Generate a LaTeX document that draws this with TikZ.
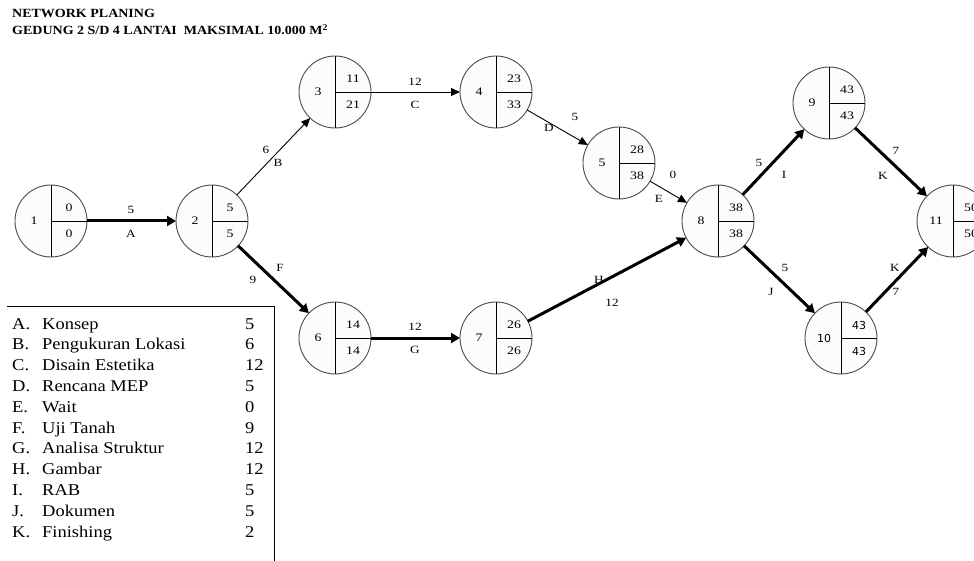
\documentclass[tikz,border=0pt]{standalone}
\usepackage{fontspec}
\setmainfont{Liberation Serif}
\newfontfamily\sansnum{DejaVu Sans}
\newfontfamily\wideserif[FakeStretch=1.12]{Liberation Serif}
\newfontfamily\numserif[FakeStretch=1.2]{Liberation Serif}
\usetikzlibrary{arrows.meta}

\newcommand\evnode[7][]{% [font], name, x, y, label, top, bottom
  \node[ev] (#2) at (#3,#4) {};
  \draw[divline] (#2.north) -- (#2.south);
  \draw[divline] (#2.center) -- (#2.east);
  \node[num,#1] (#2-n) at (#3-17,#4) {#5};
  \node[num,#1] (#2-t) at (#3+18,#4-13) {#6};
  \node[num,#1] (#2-b) at (#3+18,#4+13) {#7};
}

\begin{document}
\begin{tikzpicture}[x=1pt,y=-1pt,
  ev/.style={circle,draw=black!70,line width=0.9pt,fill=black!1,minimum size=72pt,inner sep=0pt,outer sep=0pt},
  divline/.style={line width=0.9pt,black},
  num/.style={font=\numserif\fontsize{11.5}{14}\selectfont,inner sep=0pt},
  lab/.style={font=\numserif\fontsize{11}{14}\selectfont,inner sep=0pt},
  minor/.style={line width=0.9pt,-{Triangle[length=9pt,width=8pt]}},
  crit/.style={line width=3pt,-{Triangle[length=9pt,width=10pt]}},
  leg/.style={font=\wideserif\fontsize{16.5}{18}\selectfont,inner sep=0pt,anchor=base west},
  ttl/.style={font=\wideserif\fontsize{12.5}{14}\selectfont\bfseries,inner sep=0pt,anchor=base west},
]
\useasboundingbox (0,0) rectangle (974,561);
\clip (0,0) rectangle (974,561);

% title
\node[ttl] (t1) at (12,18) {NETWORK PLANING};
\node[ttl] (t2) at (12,35) {GEDUNG 2 S/D 4 LANTAI\ \ MAKSIMAL 10.000 M\textsuperscript{2}};

% events
\evnode{e1}{51}{221}{1}{0}{0}
\evnode{e2}{212}{221}{2}{5}{5}
\evnode{e3}{335}{92}{3}{11}{21}
\evnode{e4}{496}{92}{4}{23}{33}
\evnode{e5}{619}{163}{5}{28}{38}
\evnode{e6}{335}{338}{6}{14}{14}
\evnode{e7}{496}{338}{7}{26}{26}
\evnode{e8}{718}{221}{8}{38}{38}
\evnode{e9}{829}{103}{9}{43}{43}
\evnode[font=\sansnum\fontsize{11}{13}\selectfont]{e10}{841}{338}{10}{43}{43}
\evnode{e11}{953}{221}{11}{50}{50}

% activities
\draw[crit]  (e1) -- (e2);
\draw[minor] (e2) -- (e3);
\draw[minor] (e3) -- (e4);
\draw[minor] (e4) -- (e5);
\draw[minor] (e5) -- (e8);
\draw[crit]  (e2) -- (e6);
\draw[crit]  (e6) -- (e7);
\draw[crit]  (e7) -- (e8);
\draw[crit]  (e8) -- (e9);
\draw[crit]  (e8) -- (e10);
\draw[crit]  (e9) -- (e11);
\draw[crit]  (e10) -- (e11);

% activity labels
\node[lab] (lA1) at (131,210) {5};
\node[lab] (lA2) at (131,234) {A};
\node[lab] (lB1) at (266,150) {6};
\node[lab] (lB2) at (278,163) {B};
\node[lab] (lC1) at (415,82) {12};
\node[lab] (lC2) at (415,105) {C};
\node[lab] (lD1) at (575,117) {5};
\node[lab] (lD2) at (549,128) {D};
\node[lab] (lE1) at (673,175) {0};
\node[lab] (lE2) at (659,199) {E};
\node[lab] (lF1) at (280,268) {F};
\node[lab] (lF2) at (253,280) {9};
\node[lab] (lG1) at (415,327) {12};
\node[lab] (lG2) at (415,350) {G};
\node[lab] (lH1) at (599,280) {H};
\node[lab] (lH2) at (612,303) {12};
\node[lab] (lI1) at (759,163) {5};
\node[lab] (lI2) at (784,175) {I};
\node[lab] (lJ1) at (785,268) {5};
\node[lab] (lJ2) at (771,292) {J};
\node[lab] (lK1) at (896,151) {7};
\node[lab] (lK2) at (883,176) {K};
\node[lab] (lK3) at (895,268) {K};
\node[lab] (lK4) at (896,292) {7};

% legend
\coordinate (bx1) at (7,306);
\coordinate (bx2) at (274,306);
\coordinate (bx3) at (274,561);
\draw[line width=0.9pt] (bx1) -- (bx2) -- (bx3);
\foreach \i/\l/\n/\v in {0/A/Konsep/5,1/B/Pengukuran Lokasi/6,2/C/Disain Estetika/12,3/D/Rencana MEP/5,4/E/Wait/0,5/F/Uji Tanah/9,6/G/Analisa Struktur/12,7/H/Gambar/12,8/I/RAB/5,9/J/Dokumen/5,10/K/Finishing/2}{
  \node[leg] (lg\i a) at (12,329+20.8*\i) {\l.};
  \node[leg] (lg\i b) at (42,329+20.8*\i) {\n};
  \node[leg] (lg\i c) at (245,329+20.8*\i) {\v};
}
\end{tikzpicture}
\end{document}
